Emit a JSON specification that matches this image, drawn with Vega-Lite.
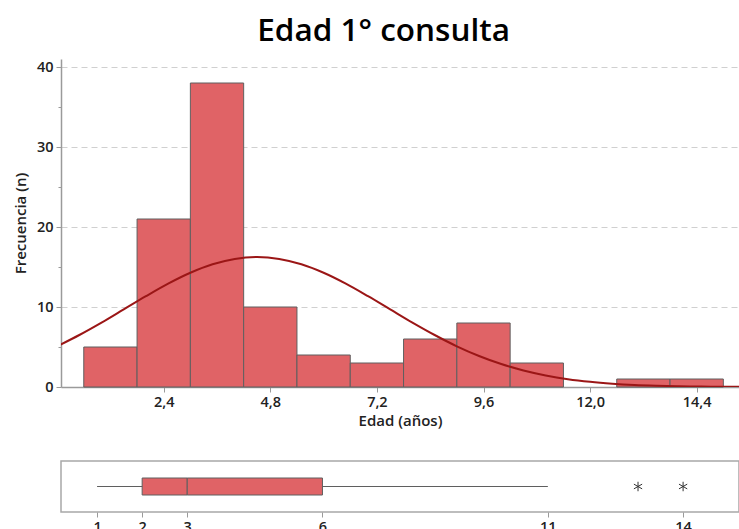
{
  "$schema": "https://vega.github.io/schema/vega-lite/v6.json",
  "padding": {"left": 13, "top": 15, "right": 0, "bottom": 0},
  "background": "white",
  "title": {"text": "Edad 1° consulta", "font": "Open Sans", "fontSize": 31.5, "fontWeight": 600, "color": "#000000", "anchor": "middle", "offset": 12, "dx": 7},
  "datasets": {
    "bins": [
      {"bin_start": 0.6, "bin_end": 1.8, "count": 5},
      {"bin_start": 1.8, "bin_end": 3.0, "count": 21},
      {"bin_start": 3.0, "bin_end": 4.2, "count": 38},
      {"bin_start": 4.2, "bin_end": 5.4, "count": 10},
      {"bin_start": 5.4, "bin_end": 6.6, "count": 4},
      {"bin_start": 6.6, "bin_end": 7.8, "count": 3},
      {"bin_start": 7.8, "bin_end": 9.0, "count": 6},
      {"bin_start": 9.0, "bin_end": 10.2, "count": 8},
      {"bin_start": 10.2, "bin_end": 11.4, "count": 3},
      {"bin_start": 12.6, "bin_end": 13.8, "count": 1},
      {"bin_start": 13.8, "bin_end": 15.0, "count": 1}
    ],
    "curve": [
      {"edad": 0.0, "n": 5.09}, {"edad": 0.5, "n": 6.50}, {"edad": 1.0, "n": 8.05}, {"edad": 1.5, "n": 9.70},
      {"edad": 2.0, "n": 11.35}, {"edad": 2.5, "n": 12.92}, {"edad": 3.0, "n": 14.28}, {"edad": 3.5, "n": 15.34},
      {"edad": 4.0, "n": 16.01}, {"edad": 4.5, "n": 16.24}, {"edad": 5.0, "n": 16.01}, {"edad": 5.5, "n": 15.34},
      {"edad": 6.0, "n": 14.28}, {"edad": 6.5, "n": 12.92}, {"edad": 7.0, "n": 11.35}, {"edad": 7.5, "n": 9.70},
      {"edad": 8.0, "n": 8.05}, {"edad": 8.5, "n": 6.50}, {"edad": 9.0, "n": 5.09}, {"edad": 9.5, "n": 3.88},
      {"edad": 10.0, "n": 2.87}, {"edad": 10.5, "n": 2.07}, {"edad": 11.0, "n": 1.45}, {"edad": 11.5, "n": 0.98},
      {"edad": 12.0, "n": 0.65}, {"edad": 12.5, "n": 0.42}, {"edad": 13.0, "n": 0.26}, {"edad": 13.5, "n": 0.16},
      {"edad": 14.0, "n": 0.09}, {"edad": 14.5, "n": 0.05}, {"edad": 15.0, "n": 0.03}, {"edad": 15.5, "n": 0.02}
    ],
    "box": [
      {"var": "Edad", "lower": 1, "q1": 2, "median": 3, "q3": 6, "upper": 11}
    ],
    "outliers": [
      {"var": "Edad", "edad": 13},
      {"var": "Edad", "edad": 14}
    ]
  },
  "spacing": 31,
  "vconcat": [
    {
      "width": 678,
      "height": 328,
      "view": {"stroke": null},
      "layer": [
        {
          "data": {"name": "bins"},
          "mark": {"type": "bar", "orient": "vertical", "fill": "#E06366", "stroke": "#5f5f5f", "strokeWidth": 1},
          "encoding": {
            "x": {"field": "bin_start", "type": "quantitative",
                  "scale": {"domain": [0.2, 15.24], "nice": false, "zero": false},
                  "axis": {"values": [2.4, 4.8, 7.2, 9.6, 12.0, 14.4], "labelExpr": "replace(format(datum.value, '.1f'), '.', ',')",
                           "title": "Edad (años)", "grid": false, "tickSize": 5, "labelPadding": 3, "titlePadding": 5}},
            "x2": {"field": "bin_end"},
            "y": {"field": "count", "type": "quantitative",
                  "scale": {"domain": [0, 41], "nice": false},
                  "axis": {"values": [0, 5, 10, 15, 20, 25, 30, 35, 40],
                           "labelExpr": "datum.value % 10 === 0 ? datum.label : ''",
                           "tickSize": {"condition": {"test": "datum.value % 10 === 0", "value": 5}, "value": 3},
                           "gridOpacity": {"condition": {"test": "datum.value % 10 === 0 && datum.value > 0", "value": 1}, "value": 0},
                           "grid": true, "gridColor": "#d0d0d0", "gridDash": [6, 4],
                           "title": "Frecuencia (n)", "labelPadding": 3, "titlePadding": 8}},
            "y2": {"datum": 0}
          }
        },
        {
          "data": {"name": "curve"},
          "mark": {"type": "line", "color": "#9B1616", "strokeWidth": 2, "interpolate": "monotone", "clip": true},
          "encoding": {
            "x": {"field": "edad", "type": "quantitative"},
            "y": {"field": "n", "type": "quantitative"}
          }
        }
      ]
    },
    {
      "width": 678,
      "height": 51,
      "view": {"stroke": "#a8a8a8", "strokeWidth": 1.5},
      "layer": [
        {
          "data": {"name": "box"},
          "mark": {"type": "rule", "color": "#5f5f5f", "strokeWidth": 1},
          "encoding": {
            "x": {"field": "lower", "type": "quantitative",
                  "scale": {"domain": [0.2, 15.24], "nice": false, "zero": false},
                  "axis": {"values": [1, 2, 3, 6, 11, 14], "format": "d", "title": null, "grid": false, "domain": false, "tickSize": 5, "labelPadding": 3}},
            "x2": {"field": "upper"},
            "y": {"field": "var", "type": "nominal", "scale": {"paddingInner": 0, "paddingOuter": 1}, "axis": null}
          }
        },
        {
          "data": {"name": "box"},
          "mark": {"type": "bar", "fill": "#E06366", "stroke": "#5f5f5f", "strokeWidth": 1},
          "encoding": {
            "x": {"field": "q1", "type": "quantitative"},
            "x2": {"field": "median"},
            "y": {"field": "var", "type": "nominal"}
          }
        },
        {
          "data": {"name": "box"},
          "mark": {"type": "bar", "fill": "#E06366", "stroke": "#5f5f5f", "strokeWidth": 1},
          "encoding": {
            "x": {"field": "median", "type": "quantitative"},
            "x2": {"field": "q3"},
            "y": {"field": "var", "type": "nominal"}
          }
        },
        {
          "data": {"name": "outliers"},
          "mark": {"type": "point", "shape": "M0,-1L0,1M-0.87,-0.5L0.87,0.5M-0.87,0.5L0.87,-0.5", "filled": false, "stroke": "#333333", "strokeWidth": 1, "size": 90, "opacity": 1},
          "encoding": {
            "x": {"field": "edad", "type": "quantitative"},
            "y": {"field": "var", "type": "nominal"}
          }
        }
      ]
    }
  ],
  "config": {
    "axis": {
      "labelFont": "Open Sans", "labelFontSize": 14.5, "labelFontWeight": 600, "labelColor": "#222222",
      "titleFont": "Open Sans", "titleFontSize": 15, "titleFontWeight": 600, "titleColor": "#222222",
      "domainColor": "#9a9a9a", "tickColor": "#9a9a9a", "domainWidth": 1.5
    }
  }
}
